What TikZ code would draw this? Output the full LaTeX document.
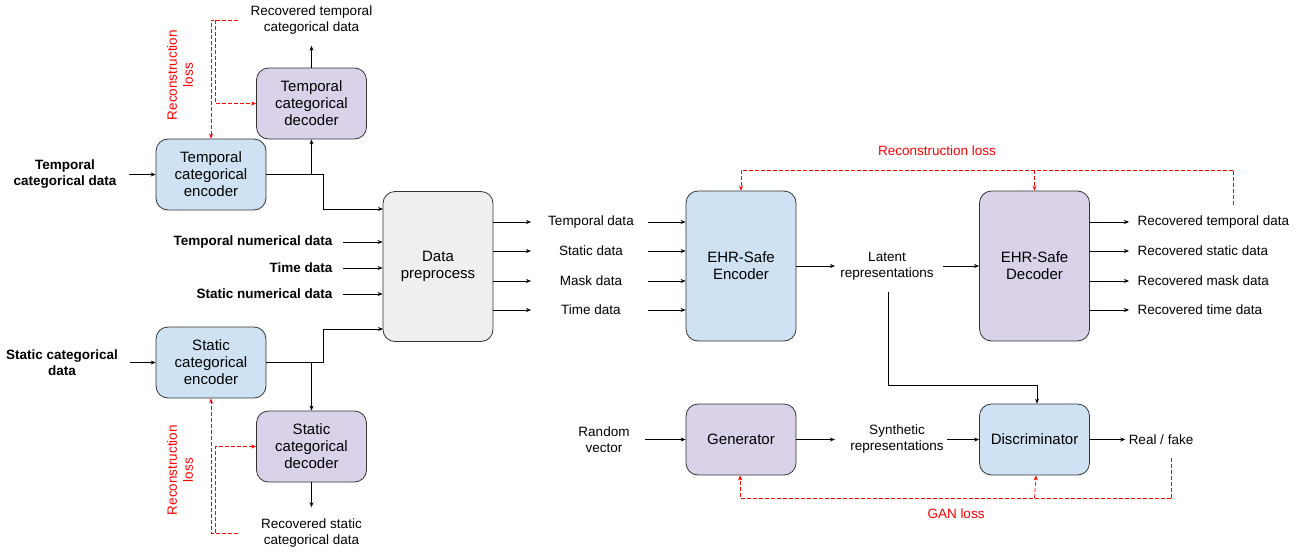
\documentclass[tikz,border=0pt]{standalone}
\usepackage{fontspec}
\setmainfont{Liberation Sans}
\usetikzlibrary{arrows.meta}
\definecolor{encblue}{HTML}{CFE2F3}
\definecolor{decpurple}{HTML}{D9D2E9}
\definecolor{prepgray}{HTML}{EFEFEF}
\definecolor{lossred}{HTML}{FF0000}
\begin{document}
\begin{tikzpicture}[x=1pt, y=-1pt,
    box/.style={draw=black!80, fill=#1, rounded corners=12pt, align=center, minimum width=110pt, font=\fontsize{15}{17}\selectfont, line width=0.8pt},
    smallbox/.style={box=#1, minimum height=71pt},
    bigbox/.style={box=#1, minimum height=150pt},
    lbl/.style={align=center, font=\fontsize{13.5}{16}\selectfont},
    inlbl/.style={align=center, font=\bfseries\fontsize{13.5}{16}\selectfont},
    arr/.style={-{Stealth[length=5pt,width=4pt]}, line width=0.7pt},
    loss/.style={draw=lossred, dash pattern=on 4pt off 2pt, line width=0.7pt},
    lossarr/.style={loss, -{Stealth[length=5pt,width=4pt]}},
    losslbl/.style={lbl, text=lossred}
]
    \useasboundingbox (0,0) rectangle (1300,552);

    % categorical branches
    \node[smallbox=encblue]    (tenc) at (211,174.5)   {Temporal\\categorical\\encoder};
    \node[smallbox=decpurple]  (tdec) at (311.5,103.5) {Temporal\\categorical\\decoder};
    \node[smallbox=encblue]    (senc) at (211,362.5)   {Static\\categorical\\encoder};
    \node[smallbox=decpurple]  (sdec) at (311.5,446.5) {Static\\categorical\\decoder};

    % main blocks
    \node[bigbox=prepgray]   (prep)   at (438,266.5)  {Data\\preprocess};
    \node[bigbox=encblue]    (ehrenc) at (741,266)    {EHR-Safe\\Encoder};
    \node[bigbox=decpurple]  (ehrdec) at (1034.5,266) {EHR-Safe\\Decoder};
    \node[smallbox=decpurple] (gen)   at (741,439.5)  {Generator};
    \node[smallbox=encblue]   (disc)  at (1034.5,439.5) {Discriminator};

    % temporal categorical
    \node[inlbl] (tcat) at (65,174.5) {Temporal\\categorical data};
    \draw[arr, shorten <=9pt] (tcat) -- (tenc);
    \node[lbl] (trec) at (311.5,20) {Recovered temporal\\categorical data};
    \draw[arr, shorten >=8pt] (tdec) -- (trec);
    \coordinate (tin) at (383,209);
    \draw[arr] (tenc.east) -- (323,174.5) |- (tin);
    \draw[arr] (tenc.east -| tdec.south) -- (tdec.south);
    \node[losslbl, rotate=90] (tloss) at (180,75) {Reconstruction\\loss};
    \coordinate (tl) at (238,20);
    \draw[lossarr] (tl) -| (tenc.north);
    \draw[lossarr] (215.5,20) |- (tdec.west);

    % static categorical
    \node[inlbl] (scat) at (62,362.5) {Static categorical\\data};
    \draw[arr, shorten <=9pt] (scat) -- (senc);
    \node[lbl] (srec) at (311.5,533) {Recovered static\\categorical data};
    \draw[arr, shorten >=8pt] (sdec) -- (srec);
    \coordinate (sin) at (383,329);
    \draw[arr] (senc.east) -- (323,362.5) |- (sin);
    \draw[arr] (senc.east -| sdec.north) -- (sdec.north);
    \node[losslbl, rotate=90] (sloss) at (180,470) {Reconstruction\\loss};
    \coordinate (sl) at (238,533);
    \draw[lossarr] (sl) -| (senc.south);
    \draw[lossarr] (215.5,533) |- (sdec.west);

    % numerical inputs
    \foreach \y/\t [count=\i] in {242/Temporal numerical data, 268/Time data, 294/Static numerical data} {
        \node[inlbl, anchor=east] (num\i) at (336,\y) {\t};
        \draw[arr, shorten <=7pt] (num\i.east) -- (num\i.east -| prep.west);
    }

    % preprocessed data
    \foreach \y/\t [count=\i] in {222/Temporal data, 251/Static data, 281/Mask data, 310/Time data} {
        \node[lbl] (mid\i) at (591,\y) {\t};
        \draw[arr] (prep.east |- mid\i) -- ([xshift=-60pt]mid\i.center);
        \draw[arr] ([xshift=57pt]mid\i.center) -- (ehrenc.west |- mid\i);
    }

    % latent
    \node[lbl] (latent) at (887,266) {Latent\\representations};
    \draw[arr, shorten >=2pt] (ehrenc) -- (latent);
    \draw[arr, shorten <=6pt] (latent) -- (ehrdec);
    \coordinate (lj) at (888,385);
    \draw[arr, shorten <=8pt] (latent.south -| lj) -- (lj) -| ([xshift=2.5pt]disc.north);

    % recovered data
    \foreach \y/\t [count=\i] in {222/temporal, 251/static, 281/mask, 310/time} {
        \node[lbl, anchor=west] (rec\i) at (1134,\y) {Recovered \t\ data};
        \draw[arr, shorten >=5pt] (ehrdec.east |- rec\i) -- (rec\i.west);
    }
    \node[losslbl] (rloss) at (937,151) {Reconstruction loss};
    \coordinate (rl) at (1233,205);
    \coordinate (rtop) at (1233,170);
    \draw[loss] (rl) -- (rtop);
    \draw[lossarr] (rtop) -| (ehrenc.north);
    \draw[lossarr] (rtop -| ehrdec.north) -- (ehrdec.north);

    % GAN
    \node[lbl] (rand) at (604,439.5) {Random\\vector};
    \draw[arr, shorten <=12pt] (rand) -- (gen);
    \node[lbl] (synth) at (897,439.5) {Synthetic\\representations};
    \draw[arr, shorten >=12pt] (gen) -- (synth);
    \draw[arr] (synth) -- (disc);
    \node[lbl] (real) at (1161,439.5) {Real / fake};
    \draw[arr] (disc) -- (real);
    \node[losslbl] (ganloss) at (956,514) {GAN loss};
    \coordinate (gl) at (1171,458);
    \coordinate (gbot) at (1171,498);
    \draw[loss] (gl) -- (gbot);
    \draw[lossarr] (gbot) -| ([xshift=-1pt]gen.south);
    \draw[lossarr] (gbot -| disc.south) -- ([xshift=1.5pt]disc.south);
\end{tikzpicture}
\end{document}
